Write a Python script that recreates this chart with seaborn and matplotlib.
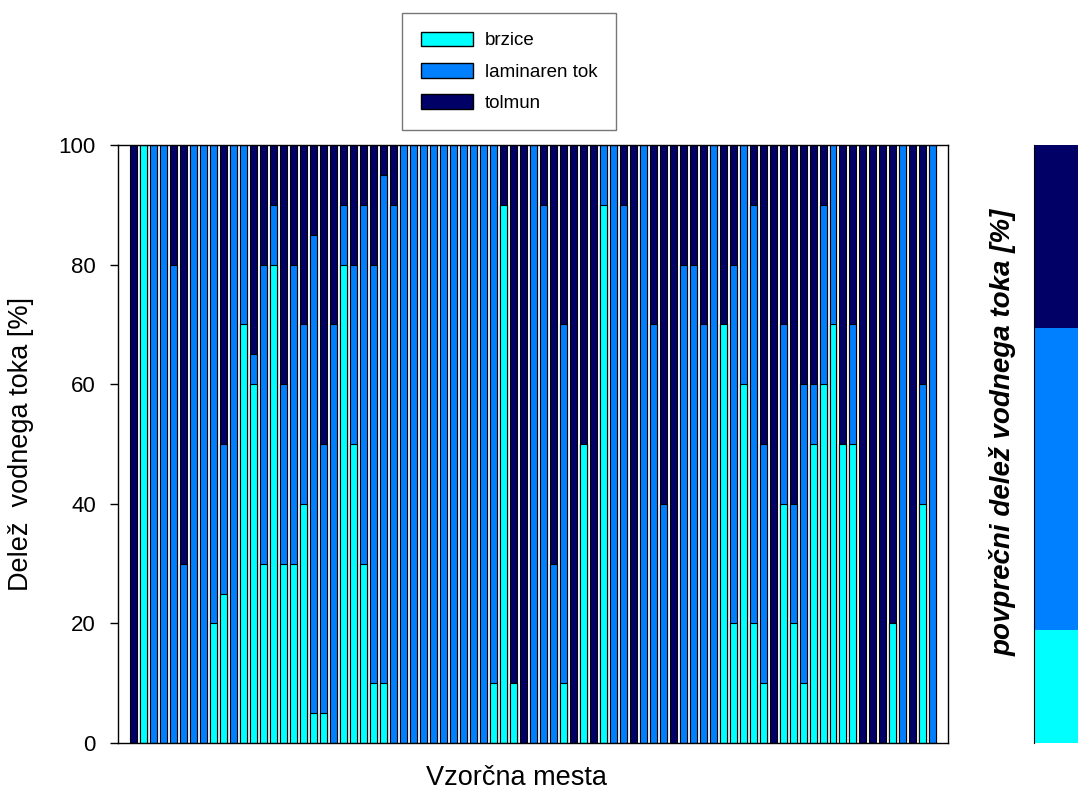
import matplotlib
matplotlib.use("Agg")
import matplotlib.pyplot as plt
from matplotlib.patches import Patch
import seaborn as sns
import numpy as np
import pandas as pd

sns.set_style("white")
plt.rcParams['font.family'] = ['Liberation Sans', 'DejaVu Sans']
plt.rcParams['text.color'] = 'black'
plt.rcParams['axes.labelcolor'] = 'black'
plt.rcParams['ytick.color'] = 'black'

# shares per sampling site [%] (81 sites)
brzice = [0, 100, 0, 0, 0, 0, 0, 0, 20, 25, 0, 70, 60, 30, 80, 30, 30, 40, 5, 5,
          0, 80, 50, 30, 10, 10, 0, 0, 0, 0, 0, 0, 0, 0, 0, 0, 10, 90, 10, 0,
          0, 0, 0, 10, 0, 50, 0, 90, 0, 0, 0, 0, 0, 0, 0, 0, 0, 0, 0, 70,
          20, 60, 20, 10, 0, 40, 20, 10, 50, 60, 70, 50, 50, 0, 0, 0, 20, 0, 0, 40,
          0]
laminaren = [0, 0, 100, 100, 80, 30, 100, 100, 80, 25, 100, 30, 5, 50, 10, 30, 50, 30, 80, 45,
             70, 10, 30, 60, 70, 85, 90, 100, 100, 100, 100, 100, 100, 100, 100, 100, 90, 0, 0, 0,
             100, 90, 30, 60, 0, 0, 0, 10, 100, 90, 0, 100, 70, 40, 0, 80, 80, 70, 100, 0,
             60, 40, 70, 40, 0, 30, 20, 50, 10, 30, 30, 0, 20, 0, 0, 0, 0, 100, 0, 20,
             100]
tolmun = [100 - b - l for b, l in zip(brzice, laminaren)]

colors = {"brzice": "#00FFFF", "laminaren tok": "#0080FF", "tolmun": "#000066"}

sites = [str(i + 1) for i in range(len(brzice))]
df = pd.DataFrame({"mesto": sites, "brzice": brzice,
                   "laminaren": laminaren, "tolmun": tolmun})
df["top_lam"] = df["brzice"] + df["laminaren"]
df["top_tol"] = df["top_lam"] + df["tolmun"]

fig = plt.figure(figsize=(10.78, 7.98), dpi=100)
ax = fig.add_axes([0.1095, 0.0689, 0.7699, 0.7494])

# stacked bars drawn as layered cumulative heights
for col, c in [("top_tol", colors["tolmun"]), ("top_lam", colors["laminaren tok"]),
               ("brzice", colors["brzice"])]:
    sns.barplot(data=df, x="mesto", y=col, color=c, width=0.7, edgecolor="black",
                linewidth=0.8, saturation=1, ax=ax, order=sites)

ax.set_xlim(-1.5, len(sites) + 0.5)
ax.set_ylim(0, 100)
ax.set_yticks([0, 20, 40, 60, 80, 100])
ax.set_xticks([])
ax.tick_params(axis="y", labelsize=16, direction="out", length=6, width=1,
               pad=10, left=True)
ax.set_xlabel("Vzorčna mesta", fontsize=19.5)
ax.xaxis.set_label_coords(0.48, -0.037, transform=ax.transAxes)
ax.xaxis.label.set_va("top")
ax.set_ylabel("Delež  vodnega toka [%]", fontsize=19.5, labelpad=18)
for s in ax.spines.values():
    s.set_color("black")
    s.set_linewidth(1)

handles = [Patch(facecolor=c, edgecolor="black", label=k) for k, c in colors.items()]
fig.legend(handles=handles, loc="upper left", bbox_to_anchor=(0.373, 0.984),
           bbox_transform=fig.transFigure, fontsize=13.5, frameon=True, fancybox=False,
           edgecolor="#555555", handlelength=2.8, handleheight=0.85, labelspacing=0.7,
           borderpad=1.0, handletextpad=0.6, borderaxespad=0)

# mean share panel on the right
mean_df = pd.DataFrame({"x": ["avg"], "brzice": [np.mean(brzice)],
                        "lam": [np.mean(brzice) + np.mean(laminaren)],
                        "tol": [100.0]})
ax2 = fig.add_axes([0.959, 0.0689, 0.06, 0.7494])
for col, c in [("tol", colors["tolmun"]), ("lam", colors["laminaren tok"]),
               ("brzice", colors["brzice"])]:
    sns.barplot(data=mean_df, x="x", y=col, color=c, width=1.0, saturation=1,
                linewidth=0, ax=ax2)
ax2.set_xlim(-0.5, 0.5)
ax2.set_ylim(0, 100)
ax2.set_xticks([])
ax2.set_yticks([])
ax2.set_xlabel("")
ax2.set_ylabel("povprečni delež vodnega toka [%]", fontsize=20, fontweight="bold",
               fontstyle="italic")
ax2.yaxis.set_label_coords(-0.27, 0.52, transform=ax2.transAxes)
for k in ["top", "right", "bottom"]:
    ax2.spines[k].set_visible(False)
ax2.spines["left"].set_color("black")

fig.savefig("out.png", dpi=100)
